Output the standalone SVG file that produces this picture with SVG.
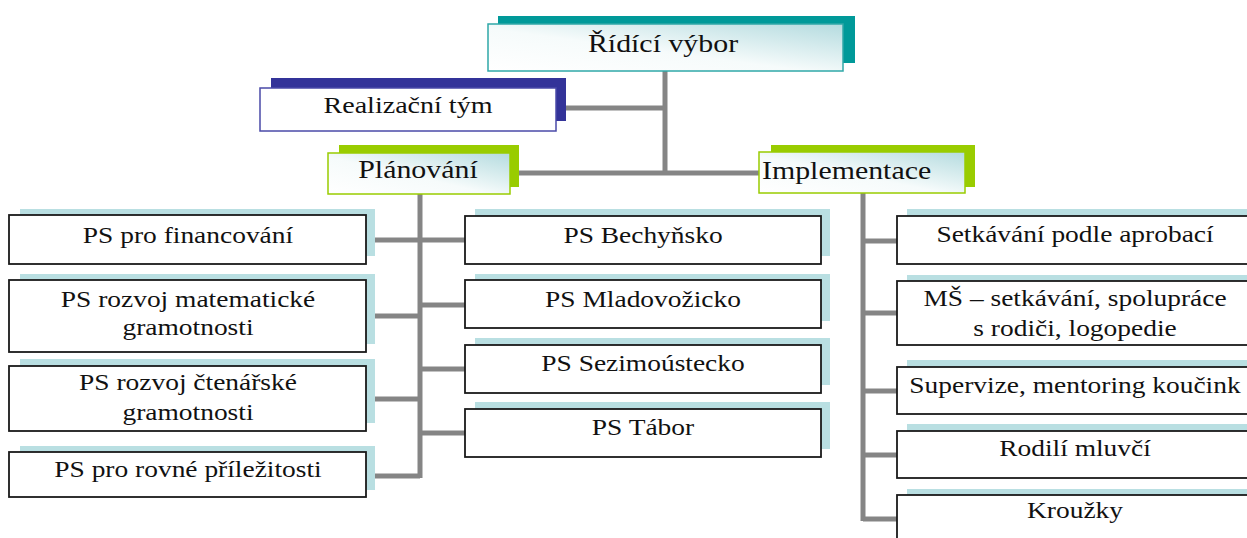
<svg xmlns="http://www.w3.org/2000/svg" width="1247" height="538" viewBox="0 0 1247 538">
<defs>
<linearGradient id="hg" x1="0" y1="1" x2="1" y2="0">
<stop offset="0" stop-color="#ffffff"/>
<stop offset="0.45" stop-color="#f6fbfb"/>
<stop offset="1" stop-color="#b4dbdf"/>
</linearGradient>
<style>
.l0{font-size:24.5px}
.l1{font-size:23px}
.lf{font-size:22.5px}
.sh{fill:#b9dfe2}
.fr{fill:#ffffff;stroke:#1a1a1a;stroke-width:1.8}
.cn{stroke:#858585;stroke-width:5;fill:none}
</style>
</defs>
<rect width="1247" height="538" fill="#ffffff"/>

<g id="connectors">
<path class="cn" d="M665 71V173M566 108H665M510 173H759"/>
<path class="cn" d="M420 193V478M375 240H420M375 316H420M375 399H420M375 476H420M420 240H465M420 305H465M420 369H465M420 433H465"/>
<path class="cn" d="M863 193V521M863 241H897M863 313H897M863 391H897M863 455H897M863 519H897"/>
</g>

<g font-family="Liberation Serif, Times New Roman, serif" fill="#111" text-anchor="middle">
<g id="ridici-vybor">
<rect x="498" y="16" width="357" height="47" fill="#009999"/>
<rect x="488" y="24" width="355" height="47" fill="url(#hg)" stroke="#2fa8a8" stroke-width="1.5"/>
<text class="l0" font-family="Liberation Serif" transform="translate(663,52) scale(1.22,1)">Řídící výbor</text>
</g>

<g id="realizacni-tym">
<rect x="271" y="78" width="295" height="43" fill="#333399"/>
<rect x="260" y="88" width="296" height="43" fill="#ffffff" stroke="#4a4aa8" stroke-width="1.5"/>
<text class="l1" font-family="Liberation Serif" transform="translate(408,113) scale(1.22,1)">Realizační tým</text>
</g>

<g id="planovani">
<rect x="339" y="145" width="180" height="42" fill="#99cc00"/>
<rect x="328" y="153" width="182" height="41" fill="url(#hg)" stroke="#99cc00" stroke-width="1.5"/>
<text class="l0" font-family="Liberation Serif" transform="translate(418,178) scale(1.22,1)">Plánování</text>
</g>

<g id="implementace">
<rect x="771" y="145" width="204" height="42" fill="#99cc00"/>
<rect x="759" y="152" width="206" height="41" fill="url(#hg)" stroke="#99cc00" stroke-width="1.5"/>
<text class="l0" font-family="Liberation Serif" text-anchor="start" transform="translate(762,179) scale(1.22,1)">Implementace</text>
</g>

<g id="ps-financovani">
<rect class="sh" x="20" y="209" width="355" height="47"/>
<rect class="fr" x="9" y="215" width="357" height="49"/>
<text class="lf" font-family="Liberation Serif" transform="translate(188,243) scale(1.22,1)">PS pro financování</text>
</g>
<g id="ps-matematicke">
<rect class="sh" x="20" y="274" width="355" height="70"/>
<rect class="fr" x="9" y="280" width="357" height="72"/>
<text class="lf" font-family="Liberation Serif" transform="translate(188,307) scale(1.22,1)">PS rozvoj matematické</text>
<text class="lf" font-family="Liberation Serif" transform="translate(188,335) scale(1.22,1)">gramotnosti</text>
</g>
<g id="ps-ctenarske">
<rect class="sh" x="20" y="359" width="355" height="64"/>
<rect class="fr" x="9" y="366" width="357" height="65"/>
<text class="lf" font-family="Liberation Serif" transform="translate(188,390) scale(1.22,1)">PS rozvoj čtenářské</text>
<text class="lf" font-family="Liberation Serif" transform="translate(188,420) scale(1.22,1)">gramotnosti</text>
</g>
<g id="ps-rovne">
<rect class="sh" x="20" y="446" width="355" height="44"/>
<rect class="fr" x="9" y="452" width="357" height="45"/>
<text class="lf" font-family="Liberation Serif" transform="translate(188,477) scale(1.22,1)">PS pro rovné příležitosti</text>
</g>

<g id="ps-bechynsko">
<rect class="sh" x="475" y="209" width="355" height="47"/>
<rect class="fr" x="465" y="216" width="356" height="48"/>
<text class="lf" font-family="Liberation Serif" transform="translate(643,243) scale(1.22,1)">PS Bechyňsko</text>
</g>
<g id="ps-mladovozicko">
<rect class="sh" x="475" y="274" width="355" height="47"/>
<rect class="fr" x="465" y="280" width="356" height="48"/>
<text class="lf" font-family="Liberation Serif" transform="translate(643,307) scale(1.22,1)">PS Mladovožicko</text>
</g>
<g id="ps-sezimoustecko">
<rect class="sh" x="475" y="338" width="355" height="47"/>
<rect class="fr" x="465" y="345" width="356" height="48"/>
<text class="lf" font-family="Liberation Serif" transform="translate(643,371) scale(1.22,1)">PS Sezimoústecko</text>
</g>
<g id="ps-tabor">
<rect class="sh" x="475" y="402" width="355" height="47"/>
<rect class="fr" x="465" y="409" width="356" height="48"/>
<text class="lf" font-family="Liberation Serif" transform="translate(643,435) scale(1.22,1)">PS Tábor</text>
</g>

<g id="setkavani">
<rect class="sh" x="907" y="209" width="356" height="47"/>
<rect class="fr" x="897" y="216" width="356" height="48"/>
<text class="lf" font-family="Liberation Serif" transform="translate(1075,242) scale(1.22,1)">Setkávání podle aprobací</text>
</g>
<g id="ms-setkavani">
<rect class="sh" x="907" y="275" width="356" height="62"/>
<rect class="fr" x="897" y="281" width="356" height="64"/>
<text class="lf" font-family="Liberation Serif" transform="translate(1075,306) scale(1.22,1)">MŠ – setkávání, spolupráce</text>
<text class="lf" font-family="Liberation Serif" transform="translate(1075,336) scale(1.22,1)">s rodiči, logopedie</text>
</g>
<g id="supervize">
<rect class="sh" x="907" y="360" width="356" height="46"/>
<rect class="fr" x="897" y="367" width="356" height="47"/>
<text class="lf" font-family="Liberation Serif" transform="translate(1075,393) scale(1.22,1)">Supervize, mentoring koučink</text>
</g>
<g id="rodili-mluvci">
<rect class="sh" x="907" y="424" width="356" height="46"/>
<rect class="fr" x="897" y="431" width="356" height="47"/>
<text class="lf" font-family="Liberation Serif" transform="translate(1075,456) scale(1.22,1)">Rodilí mluvčí</text>
</g>
<g id="krouzky">
<rect class="sh" x="907" y="489" width="356" height="49"/>
<rect class="fr" x="897" y="495" width="356" height="50"/>
<text class="lf" font-family="Liberation Serif" transform="translate(1075,518) scale(1.22,1)">Kroužky</text>
</g>
</g>
</svg>
